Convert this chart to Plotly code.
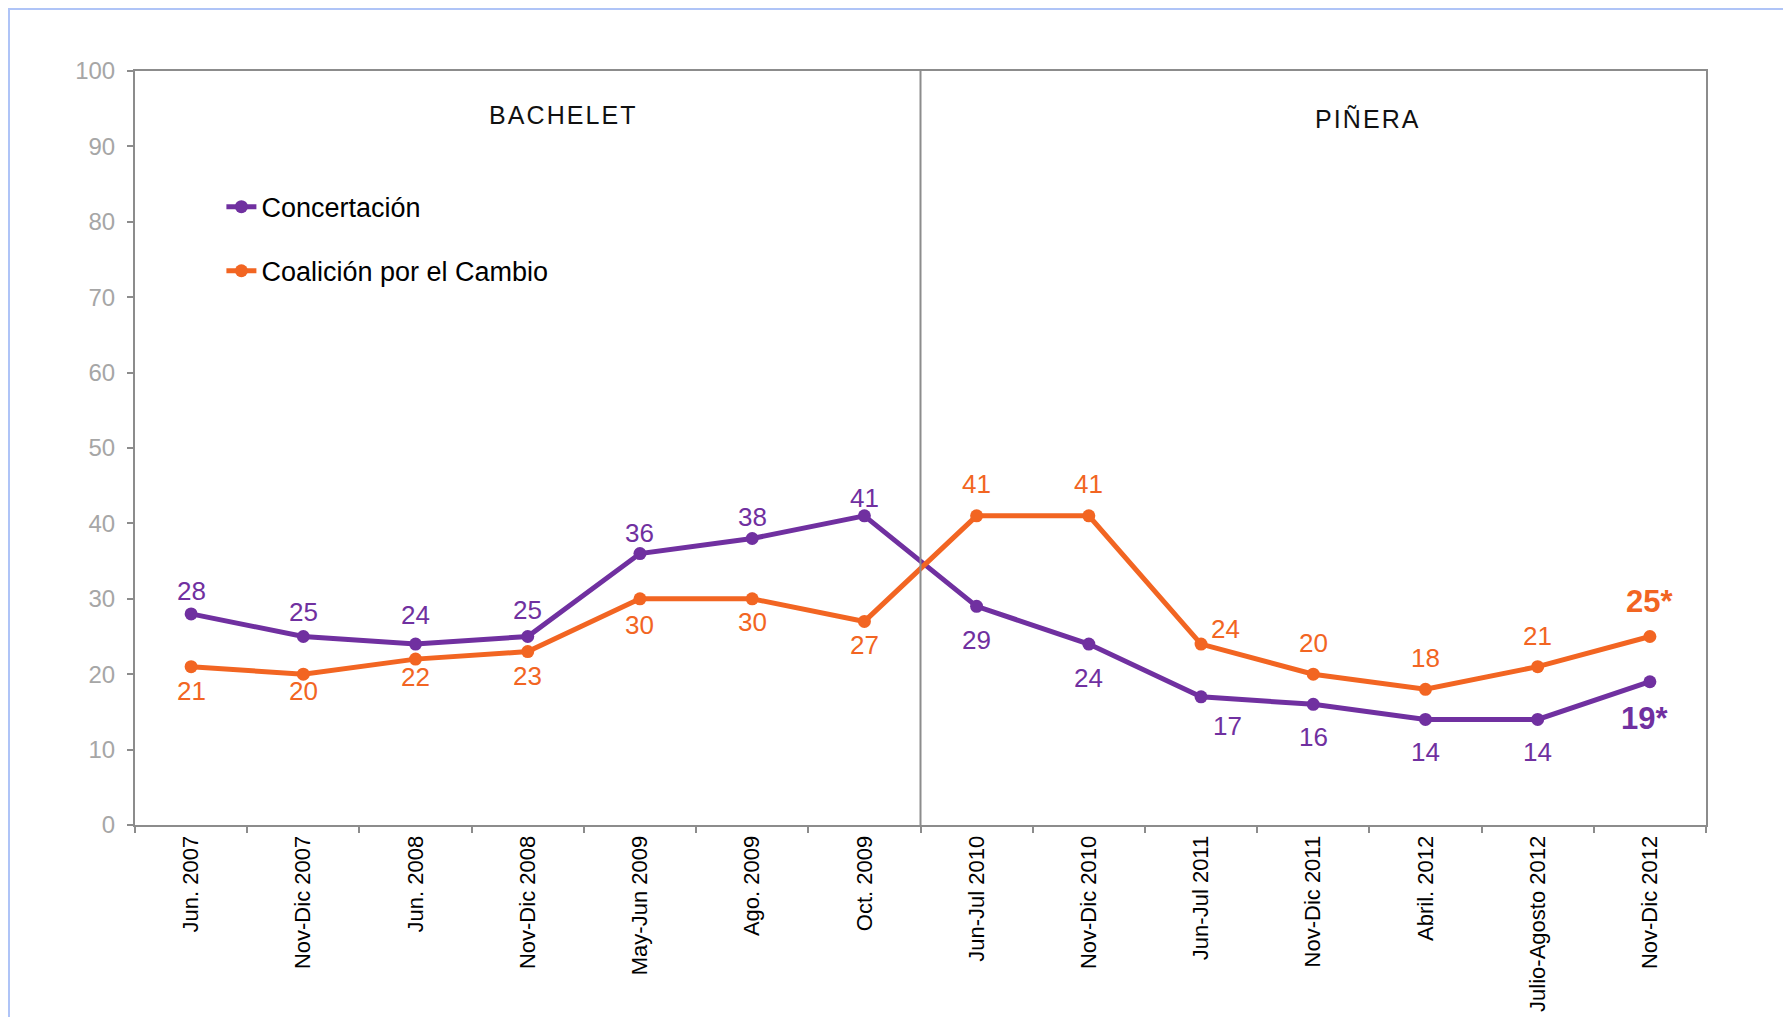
import plotly.graph_objects as go

# ---------------- data ----------------
periods = ["Jun. 2007", "Nov-Dic 2007", "Jun. 2008", "Nov-Dic 2008", "May-Jun 2009",
           "Ago. 2009", "Oct. 2009", "Jun-Jul 2010", "Nov-Dic 2010", "Jun-Jul 2011",
           "Nov-Dic 2011", "Abril. 2012", "Julio-Agosto 2012", "Nov-Dic 2012"]
concertacion = [28, 25, 24, 25, 36, 38, 41, 29, 24, 17, 16, 14, 14, 19]
coalicion = [21, 20, 22, 23, 30, 30, 27, 41, 41, 24, 20, 18, 21, 25]
starred = [False] * 13 + [True]          # last survey flagged with "*"
y_ticks = [0, 10, 20, 30, 40, 50, 60, 70, 80, 90, 100]
governments = ["BACHELET", "PIÑERA"]
series_names = ["Concertación", "Coalición por el Cambio"]

# ---------------- style ----------------
PURPLE = "#7030A0"
ORANGE = "#F26522"
AXIS = "#8C8C8C"
FONT = "Liberation Sans, Arial, sans-serif"
HAIR = "\u200a"

# label placement (pixel offsets from each point, positive = downward)
conc_dy = [-23, -25, -29, -27, -21, -21, -18, 34, 34, 29, 33, 33, 33, 37]
conc_dx = [0, 0, 0, 0, 0, 0, 0, 0, 0, 26, 0, 0, 0, -5]
coal_dy = [24, 17, 18, 24, 26, 23, 24, -32, -32, -15, -31, -31, -31, -35]
coal_dx = [0, 0, 0, 0, 0, 0, 0, 0, 0, 24, 0, 0, 0, 0]

# page offset compensation (browser body margin of 8px)
ML, MT, MR, MB = 127, 63, 93, 200
PW = 1791 - ML - MR
PH = 1017 - MT - MB

fig = go.Figure()
for name, vals, col, grp in [(series_names[0], concertacion, PURPLE, "a"),
                             (series_names[1], coalicion, ORANGE, "b")]:
    fig.add_trace(go.Scatter(
        x=periods, y=vals, name=name, mode="lines+markers",
        line=dict(color=col, width=5),
        marker=dict(color=col, size=13),
        legendgroup=grp, hoverinfo="x+y+name"))

annotations = []
for vals, col, dys, dxs in [(concertacion, PURPLE, conc_dy, conc_dx),
                            (coalicion, ORANGE, coal_dy, coal_dx)]:
    for i, v in enumerate(vals):
        big = starred[i]
        annotations.append(dict(
            x=periods[i], y=v, xref="x", yref="y",
            text=(f"<b>{v}*</b>" if big else str(v)),
            showarrow=False, xanchor="center", yanchor="middle",
            xshift=dxs[i], yshift=-dys[i],
            font=dict(family=FONT, size=31 if big else 26, color=col)))

# government period titles
for gx, gy, name in [(0.272, 94.2, governments[0]), (0.784, 93.6, governments[1])]:
    annotations.append(dict(x=gx, y=gy, xref="paper", yref="y", text=HAIR.join(name),
                            xanchor="center", yanchor="middle", showarrow=False,
                            font=dict(family=FONT, size=25, color="#111111")))

shapes = [
    # slide frame
    dict(type="rect", xref="paper", yref="paper",
         x0=(1 - ML) / PW, x1=(1900 - ML) / PW,
         y0=-0.5, y1=1 + (MT - 1) / PH,
         fillcolor="white", line=dict(color="#AFC4F7", width=2), layer="below"),
    # divider between governments
    dict(type="line", xref="x", yref="y", x0=6.5, x1=6.5, y0=0, y1=100,
         line=dict(color=AXIS, width=2)),
]

fig.update_layout(
    width=1791, height=1017,
    margin=dict(l=ML, r=MR, t=MT, b=MB),
    paper_bgcolor="white", plot_bgcolor="white",
    font=dict(family=FONT, color="black"),
    showlegend=True,
    legend=dict(x=0.055, y=0.852, xanchor="left", yanchor="top",
                bgcolor="rgba(0,0,0,0)", font=dict(family=FONT, size=27, color="black"),
                traceorder="grouped", tracegroupgap=26),
    annotations=annotations, shapes=shapes,
    xaxis=dict(type="category", range=[-0.5, 13.5], showline=True, linecolor=AXIS, linewidth=2,
               mirror=True, ticks="outside", tickson="boundaries", ticklen=6, tickcolor=AXIS,
               tickwidth=1.5, tickangle=-90, showgrid=False, zeroline=False,
               tickfont=dict(family=FONT, size=22, color="black")),
    yaxis=dict(range=[0, 100], tickvals=y_ticks, showline=True, linecolor=AXIS, linewidth=2,
               mirror=True, ticks="outside", ticklen=6, tickcolor=AXIS, tickwidth=1.5,
               showgrid=False, zeroline=False, ticklabelstandoff=7,
               tickfont=dict(family=FONT, size=24, color="#A6A6A6")),
)

fig.write_html("out.html")
